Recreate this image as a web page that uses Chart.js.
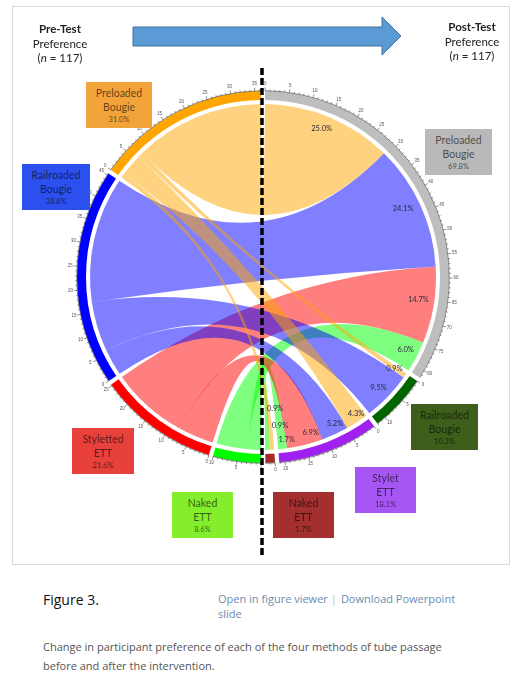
<!DOCTYPE html>
<html><head><meta charset="utf-8">
<script src="https://cdn.jsdelivr.net/npm/chart.js@4.4.0/dist/chart.umd.min.js"></script>
<style>
html,body{margin:0;padding:0;background:#fff;}
body{width:524px;height:680px;position:relative;overflow:hidden;font-family:'Open Sans',sans-serif;}
#frame{position:absolute;left:12px;top:6px;width:496px;height:557px;border:1px solid #d9d9d9;}
#c{position:absolute;left:13px;top:7px;}
#arrow{position:absolute;left:0;top:0;}
.hdr{position:absolute;width:80px;font-family:Lato,sans-serif;text-align:center;color:#222;font-size:11.5px;line-height:14.5px;}
.hdr b{font-weight:700;}
.box{position:absolute;display:flex;flex-direction:column;align-items:center;justify-content:center;font-family:Lato,sans-serif;color:rgba(0,0,0,0.62);}
.box .n{font-size:10.5px;line-height:14px;}
.box .p{font-size:7.5px;line-height:11px;}
.cap{position:absolute;left:43px;top:591px;font-size:14px;line-height:18px;color:#111;}
.links{position:absolute;left:218px;top:591px;font-size:11px;line-height:15px;color:#6b8cb0;}
.links .sep{color:#bbb;margin:0 4px 0 3px;}
.desc{position:absolute;left:43px;top:637px;width:475px;font-size:11px;line-height:19px;color:#555;}
</style>
</head>
<body>
<div id="frame"></div>
<canvas id="c" width="496" height="557"></canvas>
<svg id="arrow" width="524" height="70"><polygon points="133,27 382,27 382,17 401,36 382,55 382,46 133,46" fill="#5B9BD5" stroke="#41719C" stroke-width="1"/></svg>
<div class="hdr" style="left:20px;top:22px;"><b>Pre-Test</b><br>Preference<br>(<i>n</i> = 117)</div>
<div class="hdr" style="left:432px;top:20px;"><b>Post-Test</b><br>Preference<br>(<i>n</i> = 117)</div>
<div id="boxes"></div>
<div class="cap">Figure 3.</div>
<div class="links">Open in figure viewer<span class="sep">|</span>Download Powerpoint<br>slide</div>
<div class="desc">Change in participant preference of each of the four methods of tube passage<br>before and after the intervention.</div>
<script>
// ---------------- DATA ----------------
const sampleSize = 117;
const preCategories = ['Preloaded Bougie', 'Railroaded Bougie', 'Styletted ETT', 'Naked ETT'];
const prePercent = [31.0, 38.8, 21.6, 8.6];
const postCategories = ['Preloaded Bougie', 'Railroaded Bougie', 'Stylet ETT', 'Naked ETT'];
const postPercent = [69.8, 10.3, 18.1, 1.7];
// flows (percent of participants) from each pre-test preference to post-test preferences
const fromPreloaded  = [25.0, 0.9, 4.3, 0.9];
const fromRailroaded = [24.1, 9.5, 5.2, 0];
const fromStyletted  = [14.7, 0, 6.9, 0];
const fromNaked      = [6.0, 0, 1.7, 0.9];

// ---------------- STYLE / LAYOUT ----------------
const preColors  = ['#FFA500', '#0000FF', '#FF0000', '#00FF00'];
const postColors = ['#BEBEBE', '#006400', '#A020F0', '#A52A2A'];
const chordColors = ['rgba(255,165,0,0.5)', 'rgba(0,0,255,0.5)', 'rgba(255,0,0,0.5)', 'rgba(0,255,0,0.5)'];
const GAP = 0.75;            // sector gap (in percent units)
const R_OUT = 186, R_IN = 177, R_CHORD = 173;
// value-label placement (rows: pre, cols: post): radius and angular shift in degrees
const labelRadius = [[160, 160, 165, 132], [156, 160, 163, 0], [157, 0, 163, 0], [160, 0, 164, 150]];
const labelShift  = [[-1, 0, -1.4, -2.3], [-1.5, 0, -1.6, 0], [-1, 0, -3, 0], [-0.5, 0, -1.8, -5]];
const preBoxLayout = [
  {x:86, y:82, w:66, h:46, bg:'#F2A33A'},
  {x:22, y:164, w:68, h:46, bg:'#2B50EE'},
  {x:72, y:428, w:62, h:46, bg:'#E8413C'},
  {x:172, y:492, w:61, h:46, bg:'#84EE2C'}
];
const postBoxLayout = [
  {x:425, y:129, w:67, h:46, bg:'#B9B9B9'},
  {x:411, y:404, w:67, h:46, bg:'#3D5F1B'},
  {x:355, y:467, w:61, h:46, bg:'#A656F2'},
  {x:273, y:492, w:61, h:46, bg:'#A3302F'}
];

// ---------------- BUILD ----------------
const flows = [fromPreloaded, fromRailroaded, fromStyletted, fromNaked];
const ringValues = [], ringColors = [], ringLabels = [];
postPercent.forEach((v, j) => { ringValues.push(v, GAP); ringColors.push(postColors[j], 'rgba(0,0,0,0)'); ringLabels.push('Post: ' + postCategories[j], ''); });
[3, 2, 1, 0].forEach(i => { ringValues.push(prePercent[i], GAP); ringColors.push(preColors[i], 'rgba(0,0,0,0)'); ringLabels.push('Pre: ' + preCategories[i], ''); });
const totalUnits = ringValues.reduce((a, b) => a + b, 0);
const halfGapDeg = GAP / 2 * 360 / totalUnits;
const postRing = j => 2 * j;
const preRing = i => 2 * (7 - i);

// label boxes
const boxesEl = document.getElementById('boxes');
function addBox(L, name, pct) {
  const d = document.createElement('div');
  d.className = 'box';
  d.style.cssText = `left:${L.x}px;top:${L.y}px;width:${L.w}px;height:${L.h}px;background:${L.bg};`;
  const parts = name.split(' ');
  d.innerHTML = `<div class="n">${parts[0]}</div><div class="n">${parts.slice(1).join(' ')}</div><div class="p">${pct.toFixed(1)}%</div>`;
  boxesEl.appendChild(d);
}
preCategories.forEach((c, i) => addBox(preBoxLayout[i], c, prePercent[i]));
postCategories.forEach((c, j) => addBox(postBoxLayout[j], c, postPercent[j]));

function ribbon(ctx, cx, cy, r, a0, a1, b0, b1) {
  ctx.beginPath();
  ctx.moveTo(cx + r * Math.cos(a0), cy + r * Math.sin(a0));
  ctx.arc(cx, cy, r, a0, a1, false);
  ctx.quadraticCurveTo(cx, cy, cx + r * Math.cos(b0), cy + r * Math.sin(b0));
  ctx.arc(cx, cy, r, b0, b1, false);
  ctx.quadraticCurveTo(cx, cy, cx + r * Math.cos(a0), cy + r * Math.sin(a0));
  ctx.closePath();
  ctx.fill();
}

const chordPlugin = {
  id: 'chords',
  afterDatasetsDraw(chart) {
    const ctx = chart.ctx;
    const meta = chart.getDatasetMeta(0);
    const cx = meta.data[0].x, cy = meta.data[0].y;
    const src = [[], [], [], []], tgt = [[], [], [], []];
    for (let i = 0; i < 4; i++) {
      const arc = meta.data[preRing(i)];
      const tot = flows[i].reduce((a, b) => a + b, 0);
      const k = (arc.endAngle - arc.startAngle) / tot;
      let a = arc.startAngle;
      [3, 2, 1, 0].forEach(j => { if (flows[i][j] > 0) { src[i][j] = [a, a + flows[i][j] * k]; a += flows[i][j] * k; } });
    }
    for (let j = 0; j < 4; j++) {
      const arc = meta.data[postRing(j)];
      const tot = flows.reduce((s, f) => s + f[j], 0);
      const k = (arc.endAngle - arc.startAngle) / tot;
      let b = arc.startAngle;
      [0, 1, 2, 3].forEach(i => { if (flows[i][j] > 0) { tgt[i][j] = [b, b + flows[i][j] * k]; b += flows[i][j] * k; } });
    }
    ctx.save();
    [3, 2, 1, 0].forEach(i => {
      ctx.fillStyle = chordColors[i];
      for (let j = 0; j < 4; j++) {
        if (!(flows[i][j] > 0)) continue;
        ribbon(ctx, cx, cy, R_CHORD, src[i][j][0], src[i][j][1], tgt[i][j][0], tgt[i][j][1]);
      }
    });
    // value labels
    ctx.fillStyle = '#2a2a3a';
    ctx.font = '7.5px Lato, sans-serif';
    ctx.textAlign = 'center';
    ctx.textBaseline = 'middle';
    for (let i = 0; i < 4; i++) for (let j = 0; j < 4; j++) {
      if (!(flows[i][j] > 0)) continue;
      const m = (tgt[i][j][0] + tgt[i][j][1]) / 2 + labelShift[i][j] * Math.PI / 180;
      const r = labelRadius[i][j];
      ctx.fillText(flows[i][j].toFixed(1) + '%', cx + r * Math.cos(m), cy + r * Math.sin(m));
    }
    // axis lines and ticks
    ctx.strokeStyle = '#444';
    ctx.lineWidth = 0.6;
    ctx.fillStyle = '#555';
    ctx.font = '4.5px sans-serif';
    for (let s = 0; s < meta.data.length; s += 2) {
      const arc = meta.data[s];
      ctx.beginPath();
      ctx.arc(cx, cy, R_OUT + 0.3, arc.startAngle, arc.endAngle);
      ctx.stroke();
      const count = ringValues[s] / 100 * sampleSize;
      const step = (arc.endAngle - arc.startAngle) / count;
      for (let k = 0; k <= Math.floor(count + 0.01); k++) {
        const ang = arc.startAngle + k * step;
        const len = k % 5 === 0 ? 3.5 : 1.8;
        ctx.beginPath();
        ctx.moveTo(cx + R_OUT * Math.cos(ang), cy + R_OUT * Math.sin(ang));
        ctx.lineTo(cx + (R_OUT + len) * Math.cos(ang), cy + (R_OUT + len) * Math.sin(ang));
        ctx.stroke();
        if (k % 5 === 0) ctx.fillText(String(k), cx + (R_OUT + 7) * Math.cos(ang), cy + (R_OUT + 7) * Math.sin(ang));
      }
    }
    ctx.restore();
  },
  afterDraw(chart) {
    const ctx = chart.ctx;
    ctx.save();
    ctx.strokeStyle = '#000';
    ctx.lineWidth = 3.5;
    ctx.setLineDash([7, 3]);
    ctx.beginPath();
    ctx.moveTo(249, 61);
    ctx.lineTo(249, 548);
    ctx.stroke();
    ctx.restore();
  }
};

new Chart(document.getElementById('c').getContext('2d'), {
  type: 'doughnut',
  data: { labels: ringLabels, datasets: [{ data: ringValues, backgroundColor: ringColors, borderWidth: 0, hoverOffset: 0, radius: R_OUT, cutout: (R_IN / R_OUT * 100) + '%' }] },
  options: {
    responsive: false, animation: false, events: [],
    rotation: halfGapDeg, radius: R_OUT, cutout: (R_IN / R_OUT * 100) + '%',
    layout: { padding: { left: 64, right: 60, top: 84, bottom: 101 } },
    plugins: { legend: { display: false }, tooltip: { enabled: false } }
  },
  plugins: [chordPlugin]
});
</script>
</body></html>
